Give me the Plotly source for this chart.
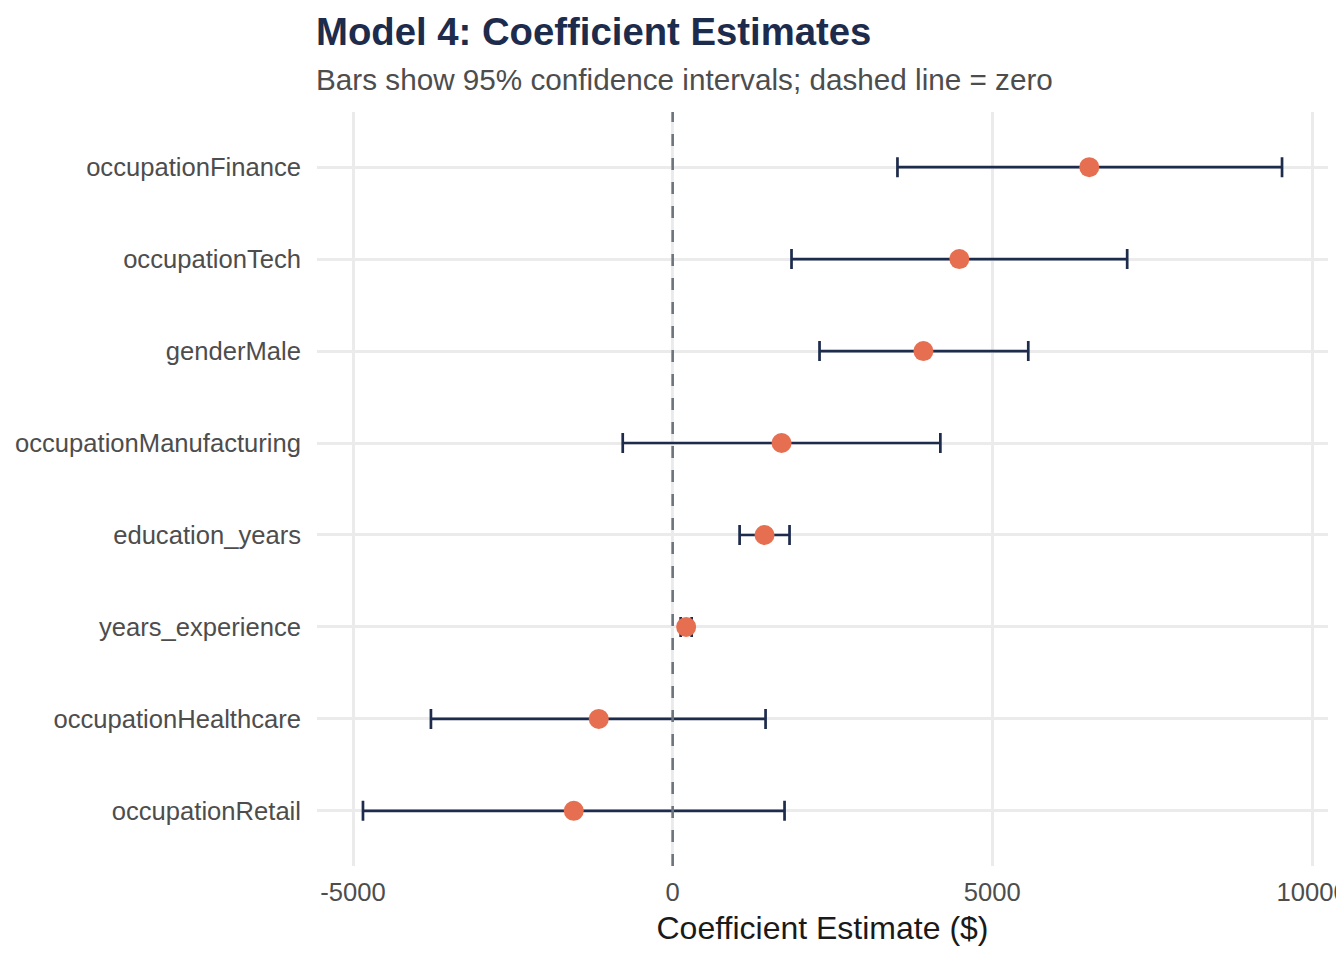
import plotly.graph_objects as go

terms = ["occupationFinance", "occupationTech", "genderMale", "occupationManufacturing",
         "education_years", "years_experience", "occupationHealthcare", "occupationRetail"]
estimate = [6516, 4484, 3922, 1703, 1437, 211, -1156, -1547]
ci_low = [3516, 1859, 2297, -781, 1047, 125, -3781, -4844]
ci_high = [9531, 7109, 5562, 4187, 1828, 297, 1453, 1750]

err_plus = [h - e for h, e in zip(ci_high, estimate)]
err_minus = [e - l for e, l in zip(estimate, ci_low)]

NAVY = "#1D2B4C"
ORANGE = "#E76F51"
FONT = "Liberation Sans, Arial, sans-serif"

fig = go.Figure()

# zero reference line
fig.add_shape(type="line", xref="x", yref="paper", x0=0, x1=0, y0=0, y1=1,
              line=dict(color="#6C757D", width=2.6, dash="12px,12px"), layer="above")

fig.add_trace(go.Scatter(
    x=estimate, y=terms, mode="markers",
    marker=dict(color=ORANGE, size=20, line=dict(width=0)),
    error_x=dict(type="data", symmetric=False, array=err_plus, arrayminus=err_minus,
                 color=NAVY, thickness=2.7, width=10),
    hoverinfo="x+y", showlegend=False,
))

fig.update_layout(
    width=1344, height=960,
    margin=dict(l=309, r=24, t=104, b=102, autoexpand=False),
    paper_bgcolor="white", plot_bgcolor="white",
    font=dict(family=FONT, color="#4D4D4D"),
    xaxis=dict(
        range=[-5563, 10250],
        tickvals=[-5000, 0, 5000, 10000],
        ticktext=["-5000", "0", "5000", "10000"],
        showgrid=True, gridcolor="#EBEBEB", gridwidth=2.7,
        zeroline=False, showline=False, ticks="",
        automargin=False, ticklabeloverflow="allow",
        ticklabelstandoff=8,
        tickfont=dict(size=25.6, color="#4D4D4D"),
        title=dict(text="Coefficient Estimate ($)", font=dict(size=32, color="#1A1A1A"), standoff=12),
    ),
    yaxis=dict(
        type="category",
        categoryorder="array", categoryarray=terms,
        range=[7.6, -0.6],
        showgrid=True, gridcolor="#EBEBEB", gridwidth=2.7,
        zeroline=False, showline=False, ticks="",
        automargin=False,
        tickfont=dict(size=25.6, color="#4D4D4D"),
        ticklabelstandoff=15,
    ),
    annotations=[
        dict(text="<b>Model 4: Coefficient Estimates</b>", xref="paper", yref="paper",
             x=0, y=(866 - 31) / 754, xanchor="left", yanchor="middle", showarrow=False,
             xshift=-3, font=dict(size=38.3, color="#1D2B4C", family=FONT)),
        dict(text="Bars show 95% confidence intervals; dashed line = zero", xref="paper", yref="paper",
             x=0, y=(866 - 80) / 754, xanchor="left", yanchor="middle", showarrow=False,
             xshift=-3, font=dict(size=29.7, color="#4D4D4D", family=FONT)),
    ],
)

fig.write_html("out.html")
